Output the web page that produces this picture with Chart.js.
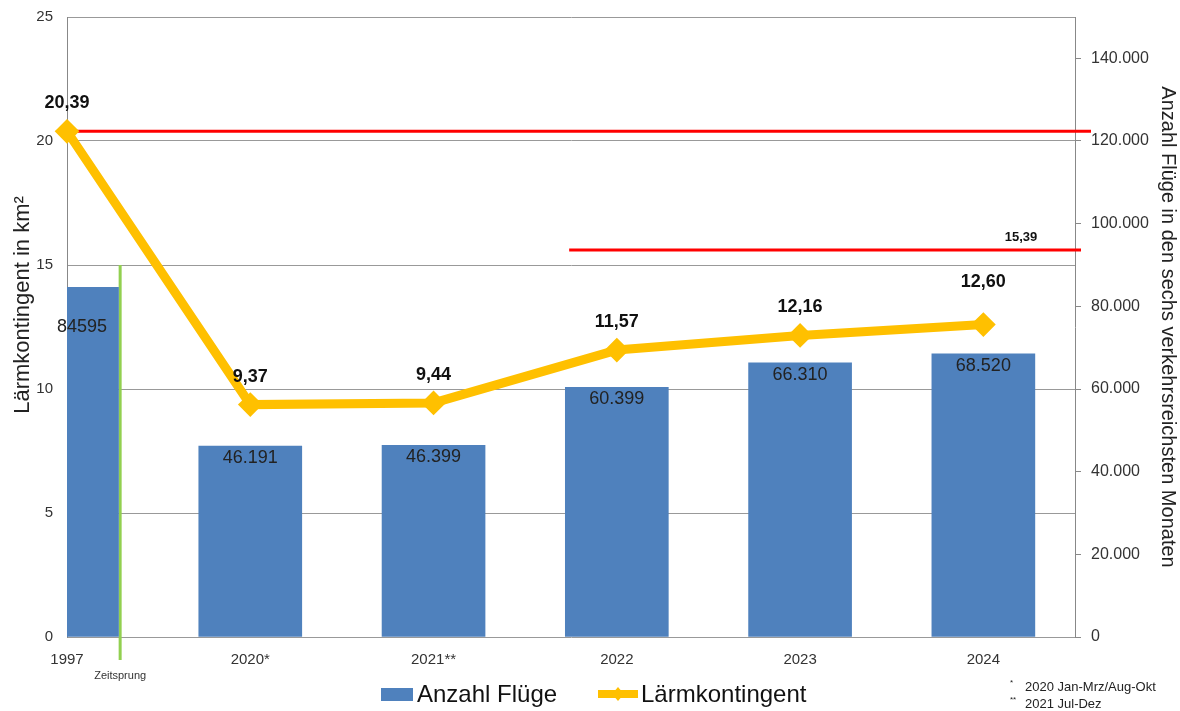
<!DOCTYPE html>
<html>
<head>
<meta charset="utf-8">
<script src="https://cdn.jsdelivr.net/npm/chart.js@4"></script>
<style>
html,body{margin:0;padding:0;background:#fff;}
#wrap{width:1180px;height:711px;position:relative;}
</style>
</head>
<body>
<div id="wrap"><canvas id="laermChart"></canvas></div>
<script>
// ====================================
// DATA
// ====================================

const categories = ['1997', '2020*', '2021**', '2022', '2023', '2024'];
const flights = [84595, 46191, 46399, 60399, 66310, 68520];
const flightText = ['84595', '46.191', '46.399', '60.399', '66.310', '68.520'];
const noise = [20.39, 9.37, 9.44, 11.57, 12.16, 12.60];
const noiseText = ['20,39', '9,37', '9,44', '11,57', '12,16', '12,60'];
const leftTicks = [0, 5, 10, 15, 20, 25];
const rightTicks = [0, 20000, 40000, 60000, 80000, 100000, 120000, 140000];

// red limit lines: value on left axis, start on x axis (category units)
const limitValues = [20.39, 15.6];
const limitStarts = [0, 2.74];
const limitText = ['', '15,39'];

// "Zeitsprung" marker
const jumpAt = 0.29;
const jumpTop = 15;

const footnotes = ['2020 Jan-Mrz/Aug-Okt', '2021 Jul-Dez'];
const footMarks = ['*', '**'];

const BLUE = '#4F81BD';
const GOLD = '#FFC000';
const FONT = "'Liberation Sans', Arial, sans-serif";

Chart.defaults.font.family = FONT;
Chart.defaults.color = '#333';

// ====================================
// EXTRA DRAWING
// ====================================

const extras = {
    id: 'extras',
    beforeDatasetsDraw(chart) {
        const ctx = chart.ctx;
        const x = chart.scales.x;
        const y = chart.scales.y;
        const a = chart.chartArea;
        ctx.save();
        // red limit lines
        ctx.strokeStyle = '#FF0000';
        ctx.lineWidth = 3;
        limitValues.forEach((v, i) => {
            const py = y.getPixelForValue(v);
            ctx.beginPath();
            ctx.moveTo(x.getPixelForValue(limitStarts[i]), py);
            ctx.lineTo(a.right + (i === 0 ? 16 : 6), py);
            ctx.stroke();
            if (limitText[i]) {
                ctx.fillStyle = '#111';
                ctx.font = 'bold 13px ' + FONT;
                ctx.textAlign = 'center';
                ctx.textBaseline = 'bottom';
                ctx.fillText(limitText[i], 1021, py - 6);
            }
        });
        // green time jump
        const gx = x.getPixelForValue(jumpAt);
        ctx.strokeStyle = '#92D050';
        ctx.lineWidth = 3;
        ctx.beginPath();
        ctx.moveTo(gx, y.getPixelForValue(jumpTop));
        ctx.lineTo(gx, a.bottom + 23);
        ctx.stroke();
        ctx.fillStyle = '#333';
        ctx.font = '11px ' + FONT;
        ctx.textAlign = 'center';
        ctx.textBaseline = 'middle';
        ctx.fillText('Zeitsprung', gx, a.bottom + 39);
        ctx.restore();
    },
    afterDatasetsDraw(chart) {
        const ctx = chart.ctx;
        const a = chart.chartArea;
        ctx.save();
        ctx.textAlign = 'center';
        ctx.textBaseline = 'middle';
        // bar labels
        ctx.fillStyle = '#222';
        ctx.font = '18px ' + FONT;
        chart.getDatasetMeta(0).data.forEach((bar, i) => {
            const bx = Math.max(bar.x, a.left + 15);
            const by = i === 0 ? bar.y + 40 : bar.y + 12;
            ctx.fillText(flightText[i], bx, by);
        });
        // line labels
        ctx.fillStyle = '#111';
        ctx.font = 'bold 18px ' + FONT;
        chart.getDatasetMeta(1).data.forEach((pt, i) => {
            const off = i === 5 ? 42 : 28;
            ctx.fillText(noiseText[i], pt.x, pt.y - off);
        });
        ctx.restore();
    },
    afterDraw(chart) {
        const ctx = chart.ctx;
        ctx.save();
        // left axis title
        ctx.translate(23, 305);
        ctx.rotate(-Math.PI / 2);
        ctx.fillStyle = '#222';
        ctx.font = '22px ' + FONT;
        ctx.textAlign = 'center';
        ctx.textBaseline = 'middle';
        ctx.fillText('Lärmkontingent in km²', 0, 0);
        ctx.setTransform(1, 0, 0, 1, 0, 0);
        // legend
        ctx.fillStyle = BLUE;
        ctx.fillRect(381, 688, 32, 13);
        ctx.fillStyle = '#111';
        ctx.font = '24px ' + FONT;
        ctx.textAlign = 'left';
        ctx.textBaseline = 'middle';
        ctx.fillText('Anzahl Flüge', 417, 695);
        ctx.strokeStyle = GOLD;
        ctx.lineWidth = 8;
        ctx.beginPath();
        ctx.moveTo(598, 694);
        ctx.lineTo(638, 694);
        ctx.stroke();
        ctx.fillStyle = GOLD;
        ctx.beginPath();
        ctx.moveTo(618, 687);
        ctx.lineTo(624, 694);
        ctx.lineTo(618, 701);
        ctx.lineTo(612, 694);
        ctx.fill();
        ctx.fillStyle = '#111';
        ctx.fillText('Lärmkontingent', 641, 695);
        // footnotes
        ctx.fillStyle = '#222';
        footnotes.forEach((t, i) => {
            const fy = 687 + i * 17;
            ctx.font = '8px ' + FONT;
            ctx.fillText(footMarks[i], 1010, fy - 4);
            ctx.font = '13px ' + FONT;
            ctx.fillText(t, 1025, fy);
        });
        ctx.restore();
    }
};

// ====================================
// CHART
// ====================================

const ctxMain = document.getElementById('laermChart').getContext('2d');
const laermChart = new Chart(ctxMain, {
    data: {
        datasets: [{
            type: 'bar',
            label: 'Anzahl Flüge',
            data: flights.map((v, i) => ({ x: i, y: v })),
            yAxisID: 'y1',
            backgroundColor: BLUE,
            barThickness: 103,
            order: 2
        }, {
            type: 'line',
            label: 'Lärmkontingent',
            data: noise.map((v, i) => ({ x: i, y: v })),
            yAxisID: 'y',
            borderColor: GOLD,
            borderWidth: 9,
            backgroundColor: GOLD,
            pointStyle: 'rectRot',
            pointRadius: 6,
            pointBackgroundColor: GOLD,
            pointBorderColor: GOLD,
            tension: 0,
            clip: false,
            order: 1
        }]
    },
    options: {
        responsive: true,
        maintainAspectRatio: false,
        animation: false,
        layout: { padding: { top: 17, left: 0, right: 0, bottom: 0 } },
        plugins: {
            legend: { display: false },
            tooltip: { enabled: false }
        },
        scales: {
            x: {
                type: 'linear',
                min: 0,
                max: 5.5,
                offset: false,
                grid: { display: false },
                border: { display: false },
                afterBuildTicks: s => {
                    s.ticks = categories.map((c, i) => ({ value: i }));
                },
                afterFit: s => {
                    s.height = 74;
                    s.paddingLeft = 0;
                    s.paddingRight = 0;
                },
                ticks: {
                    callback: v => categories[v],
                    font: { size: 15 },
                    color: '#333',
                    padding: 6,
                    maxRotation: 0,
                    autoSkip: false
                }
            },
            y: {
                position: 'left',
                min: 0,
                max: 25,
                afterBuildTicks: s => {
                    s.ticks = leftTicks.map(v => ({ value: v }));
                },
                afterFit: s => {
                    s.width = 67;
                    s.paddingTop = 0;
                    s.paddingBottom = 0;
                },
                grid: { color: '#999', lineWidth: 1, tickLength: 0 },
                border: { color: '#888' },
                ticks: { font: { size: 15 }, color: '#333', padding: 14 }
            },
            y1: {
                position: 'right',
                min: 0,
                max: 150000,
                afterBuildTicks: s => {
                    s.ticks = rightTicks.map(v => ({ value: v }));
                },
                afterFit: s => {
                    s.width = 105;
                    s.paddingTop = 0;
                    s.paddingBottom = 0;
                },
                grid: { drawOnChartArea: false, color: '#888', tickLength: 6 },
                border: { color: '#888' },
                ticks: {
                    font: { size: 16 },
                    color: '#333',
                    padding: 10,
                    callback: v => v.toLocaleString('de-DE')
                },
                title: {
                    display: true,
                    text: 'Anzahl Flüge in den sechs verkehrsreichsten Monaten',
                    font: { size: 20 },
                    color: '#222',
                    padding: 0
                }
            }
        }
    },
    plugins: [extras]
});
</script>
</body>
</html>
